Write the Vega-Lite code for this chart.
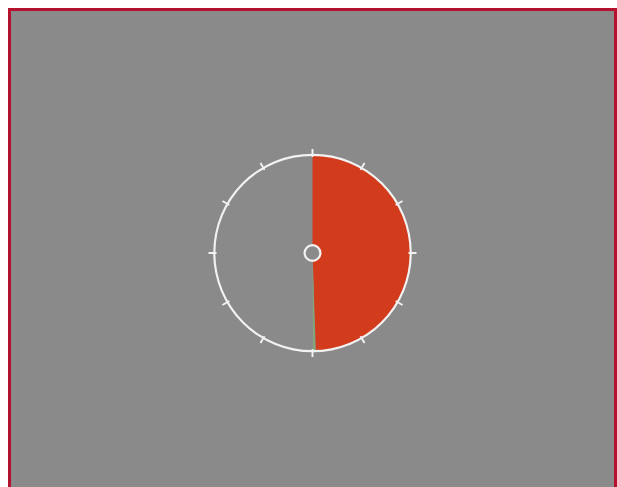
{
  "$schema": "https://vega.github.io/schema/vega-lite/v6.json",
  "width": 606,
  "height": 487,
  "padding": {"left": 7.5, "top": 7.5, "right": 0, "bottom": 0},
  "background": "#ffffff",
  "config": {"view": {"stroke": null}},
  "datasets": {
    "panel": [{"part": "panel"}],
    "gauge": [{"part": "value", "start": 0, "end": 178}],
    "needle": [{"part": "needle", "start": 178.4, "end": 179.6}],
    "ring": [{"part": "ring", "start": 0, "end": 360}],
    "ticks": [
      {"angle": 0}, {"angle": 30}, {"angle": 60}, {"angle": 90},
      {"angle": 120}, {"angle": 150}, {"angle": 180}, {"angle": 210},
      {"angle": 240}, {"angle": 270}, {"angle": 300}, {"angle": 330}
    ]
  },
  "layer": [
    {
      "data": {"name": "panel"},
      "mark": {"type": "rect", "fill": "#8a8a8a", "stroke": "#b3112e", "strokeWidth": 3},
      "encoding": {}
    },
    {
      "data": {"name": "gauge"},
      "mark": {"type": "arc", "radius": 98, "innerRadius": 0, "fill": "#d23c1c"},
      "encoding": {
        "theta": {"field": "start", "type": "quantitative", "stack": null, "scale": {"domain": [0, 360], "range": [0, 6.283185307]}},
        "theta2": {"field": "end"}
      }
    },
    {
      "data": {"name": "needle"},
      "mark": {"type": "arc", "radius": 97, "innerRadius": 8, "fill": "#86a877"},
      "encoding": {
        "theta": {"field": "start", "type": "quantitative", "stack": null, "scale": {"domain": [0, 360], "range": [0, 6.283185307]}},
        "theta2": {"field": "end"}
      }
    },
    {
      "data": {"name": "ring"},
      "mark": {"type": "arc", "radius": 99.3, "innerRadius": 97.1, "fill": "#f2f2f2"},
      "encoding": {
        "theta": {"field": "start", "type": "quantitative", "stack": null, "scale": {"domain": [0, 360], "range": [0, 6.283185307]}},
        "theta2": {"field": "end"}
      }
    },
    {
      "data": {"name": "ticks"},
      "transform": [
        {"calculate": "datum.angle - 0.55", "as": "a0"},
        {"calculate": "datum.angle + 0.55", "as": "a1"}
      ],
      "mark": {"type": "arc", "radius": 104, "innerRadius": 96, "fill": "#f2f2f2"},
      "encoding": {
        "theta": {"field": "a0", "type": "quantitative", "stack": null, "scale": {"domain": [0, 360], "range": [0, 6.283185307]}},
        "theta2": {"field": "a1"}
      }
    },
    {
      "data": {"name": "ring"},
      "mark": {"type": "arc", "radius": 7.5, "innerRadius": 0, "fill": "#8a8a8a"},
      "encoding": {
        "theta": {"field": "start", "type": "quantitative", "stack": null, "scale": {"domain": [0, 360], "range": [0, 6.283185307]}},
        "theta2": {"field": "end"}
      }
    },
    {
      "data": {"name": "ring"},
      "mark": {"type": "arc", "radius": 9, "innerRadius": 6.8, "fill": "#f2f2f2"},
      "encoding": {
        "theta": {"field": "start", "type": "quantitative", "stack": null, "scale": {"domain": [0, 360], "range": [0, 6.283185307]}},
        "theta2": {"field": "end"}
      }
    }
  ]
}
